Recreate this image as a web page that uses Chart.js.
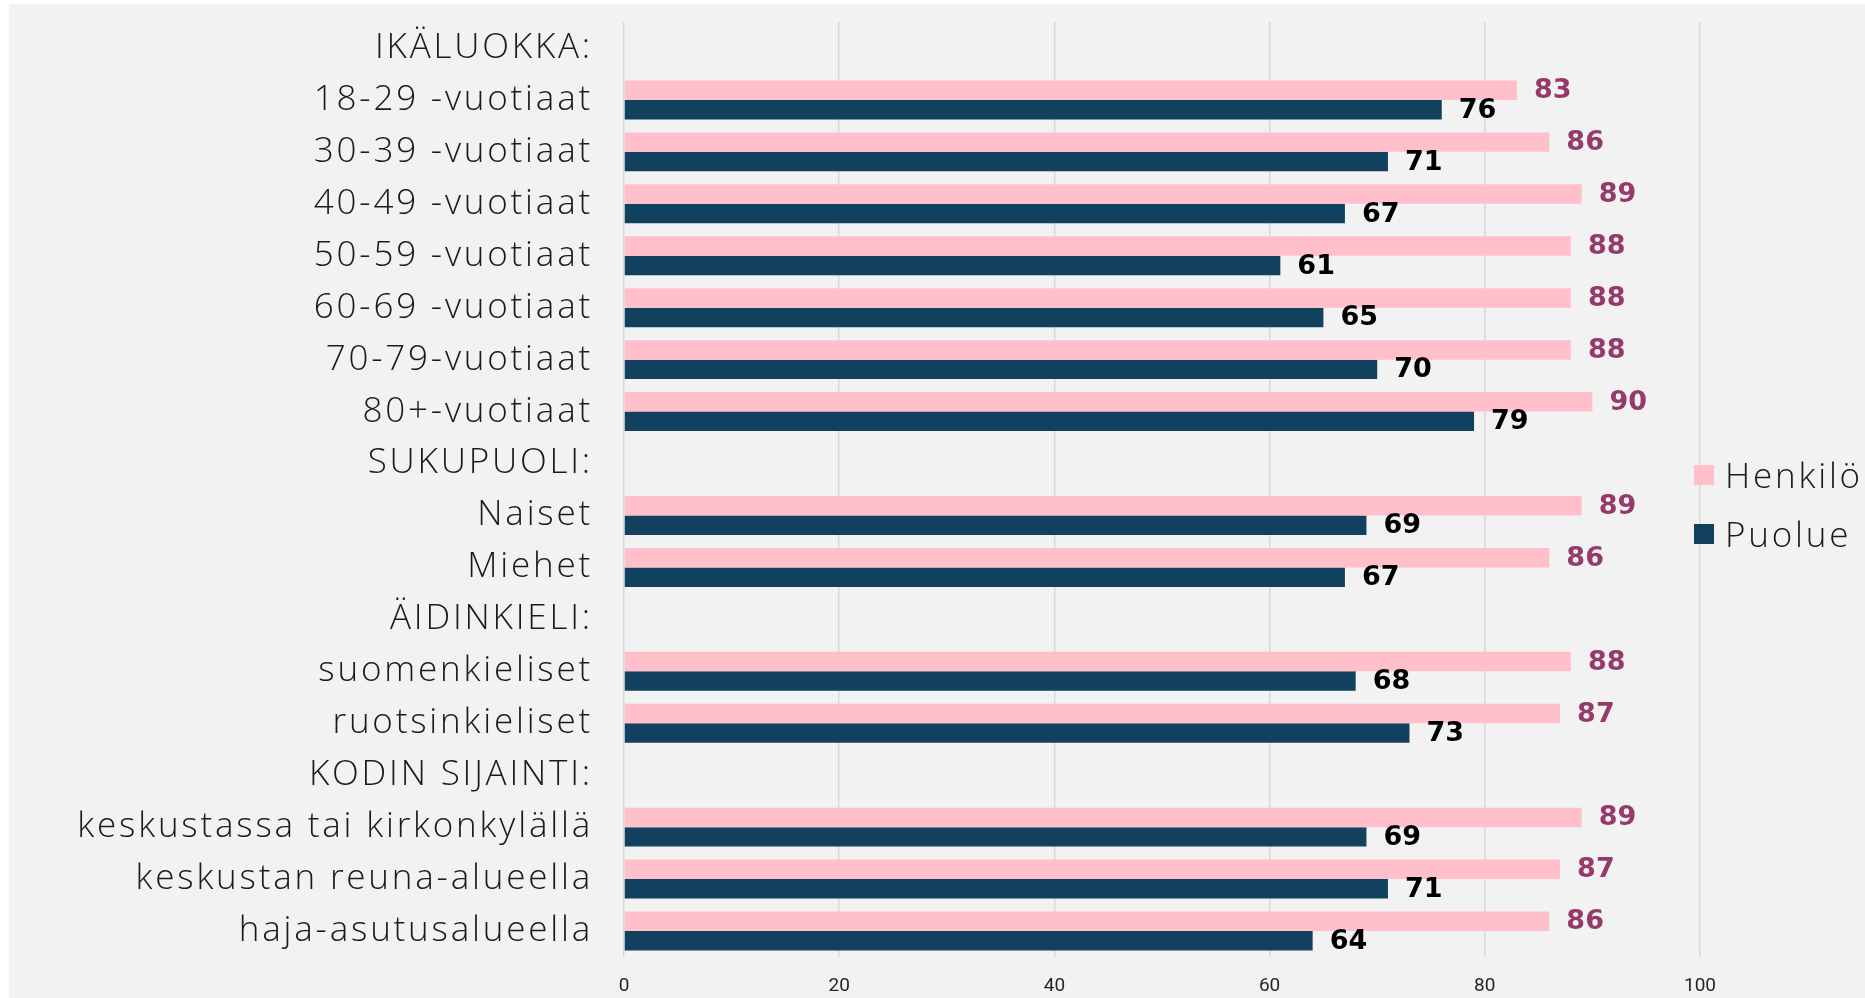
<!DOCTYPE html>
<html>
<head>
<meta charset="utf-8">
<script src="https://cdn.jsdelivr.net/npm/chart.js@4"></script>
<style>
  html, body { margin: 0; padding: 0; background: #ffffff; }
  body { width: 1865px; height: 998px; position: relative; overflow: hidden; }
  #panel { position: absolute; left: 9px; top: 4px; width: 1856px; height: 994px; background: #f2f2f2; }
  #chartBox { position: absolute; left: 0; top: 0; width: 1856px; height: 994px; }
  #legend { position: absolute; left: 1685px; top: 441px; font-family: "Open Sans", sans-serif; font-weight: 300; font-size: 35px; letter-spacing: 2.8px; color: #1a1a1a; }
  .item { display: flex; align-items: center; height: 59px; }
  .swatch { width: 20px; height: 20px; margin-right: 11px; }
</style>
</head>
<body>
<div id="panel">
  <div id="chartBox"><canvas id="barChart"></canvas></div>
  <div id="legend"></div>
</div>
<script>
// chart data
const categories = [
  'IKÄLUOKKA:', '18-29 -vuotiaat', '30-39 -vuotiaat', '40-49 -vuotiaat', '50-59 -vuotiaat',
  '60-69 -vuotiaat', '70-79-vuotiaat', '80+-vuotiaat', 'SUKUPUOLI:', 'Naiset', 'Miehet',
  'ÄIDINKIELI:', 'suomenkieliset', 'ruotsinkieliset', 'KODIN SIJAINTI:',
  'keskustassa tai kirkonkylällä', 'keskustan reuna-alueella', 'haja-asutusalueella'
];
const seriesNames = ['Henkilö', 'Puolue'];
const henkiloValues = [null, 83, 86, 89, 88, 88, 88, 90, null, 89, 86, null, 88, 87, null, 89, 87, 86];
const puolueValues = [null, 76, 71, 67, 61, 65, 70, 79, null, 69, 67, null, 68, 73, null, 69, 71, 64];
const xTicks = [0, 20, 40, 60, 80, 100];

const barColors = ['#ffc0cc', '#12415f'];
const labelColors = ['#953a6a', '#000000'];

// wider letter spacing for the category labels, like the original
const spacing = {
  id: 'spacing',
  beforeDraw(chart) { chart.ctx.letterSpacing = '2.8px'; }
};

// value labels to the right of each bar
const valueLabels = {
  id: 'valueLabels',
  afterDatasetsDraw(chart) {
    const ctx = chart.ctx;
    chart.data.datasets.forEach((ds, i) => {
      const meta = chart.getDatasetMeta(i);
      meta.data.forEach((bar, j) => {
        const v = ds.data[j];
        if (v == null) return;
        ctx.save();
        ctx.letterSpacing = '0px';
        ctx.font = 'bold 27px "DejaVu Sans"';
        ctx.fillStyle = labelColors[i];
        ctx.textAlign = 'left';
        ctx.textBaseline = 'middle';
        ctx.fillText(String(v), bar.x + 17, bar.y + 1);
        ctx.restore();
      });
    });
    // x tick labels are drawn after this (z: 1), without extra spacing
    ctx.letterSpacing = '0px';
  }
};

document.addEventListener('DOMContentLoaded', () => {
  const legend = document.getElementById('legend');
  seriesNames.forEach((name, i) => {
    const item = document.createElement('div');
    item.className = 'item';
    item.innerHTML = `<span class="swatch" style="background:${barColors[i]}"></span><span>${name}</span>`;
    legend.appendChild(item);
  });

  const ctx = document.getElementById('barChart').getContext('2d');
  new Chart(ctx, {
    type: 'bar',
    data: {
      labels: categories,
      datasets: [
        { label: seriesNames[0], data: henkiloValues, backgroundColor: barColors[0] },
        { label: seriesNames[1], data: puolueValues, backgroundColor: barColors[1] }
      ]
    },
    options: {
      indexAxis: 'y',
      responsive: true,
      maintainAspectRatio: false,
      animation: false,
      categoryPercentage: 0.75,
      barPercentage: 1,
      layout: { padding: { top: 18, right: 165, bottom: 0, left: 0 } },
      plugins: {
        legend: { display: false },
        tooltip: { enabled: false }
      },
      scales: {
        x: {
          min: 0,
          max: 100,
          afterBuildTicks: (scale) => { scale.ticks = xTicks.map(v => ({ value: v })); },
          afterFit: (scale) => { scale.height = 41; scale.paddingLeft = 0; scale.paddingRight = 0; },
          grid: { color: '#d9d9d9', lineWidth: 1.5, drawTicks: false, z: -1 },
          border: { display: false },
          ticks: {
            z: 1,
            padding: 18,
            color: '#262626',
            font: { family: 'Roboto', size: 19 }
          }
        },
        y: {
          afterFit: (scale) => { scale.width = 615; scale.paddingTop = 0; scale.paddingBottom = 0; },
          grid: { display: false, drawTicks: false },
          border: { display: false },
          ticks: {
            padding: 31,
            autoSkip: false,
            color: '#1a1a1a',
            font: { family: 'Open Sans', size: 35, weight: '300' }
          }
        }
      }
    },
    plugins: [spacing, valueLabels]
  });
});
</script>
</body>
</html>
